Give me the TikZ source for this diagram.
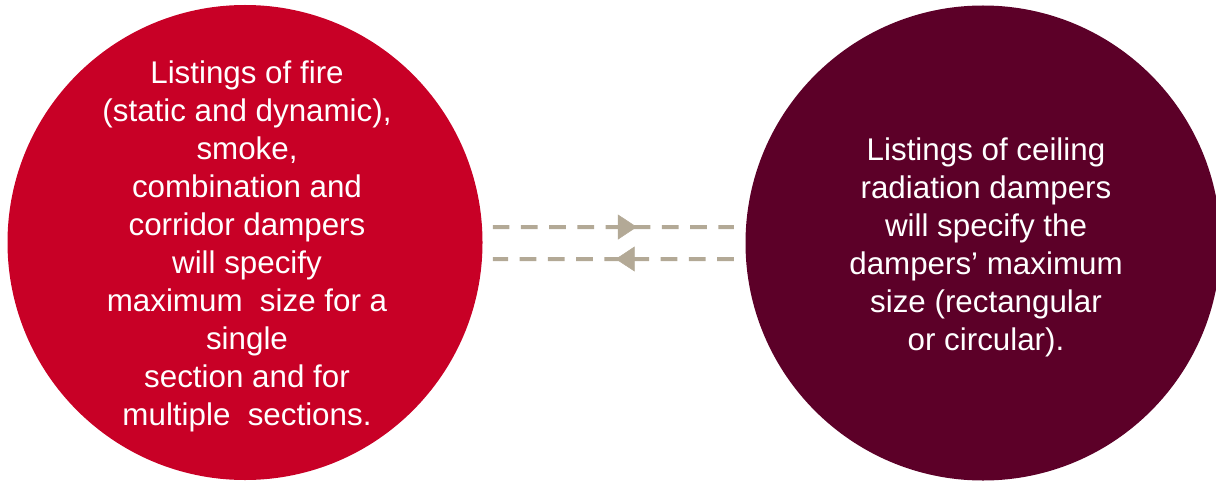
\documentclass[tikz,border=0pt]{standalone}
\usepackage{fontspec}
\setmainfont{Liberation Sans}
\usetikzlibrary{arrows.meta,decorations.markings}
\definecolor{firered}{RGB}{200,0,38}
\definecolor{ceilmaroon}{RGB}{92,0,40}
\definecolor{dashgray}{RGB}{179,169,150}
\tikzset{
  bigcircle/.style={circle,inner sep=0pt,minimum size=356.25pt,draw=none},
  circtext/.style={text=white,align=center,inner sep=0pt,font=\fontsize{23.5}{28.5}\selectfont},
  dashlink/.style={draw=dashgray,line width=3pt,dash pattern=on 12.5pt off 8.65pt},
  midarrow/.style={postaction={decorate},decoration={markings,
    mark=at position #1 with {\arrow[dashgray]{Triangle[length=14.25pt,width=18.75pt]}}}}
}
\begin{document}
\begin{tikzpicture}[x=0.75pt,y=-0.75pt]
\useasboundingbox (0,0) rectangle (1216,481);
\node[bigcircle,fill=firered] (L) at (245,242.5) {};
\node[bigcircle,fill=ceilmaroon] (R) at (983,243) {};
\node[circtext] (Lt) at (247,246) {Listings of fire\\(static and dynamic),\\smoke,\\combination and\\corridor dampers\\will specify\\maximum\ \ size for a\\single\\section and for\\multiple\ \ sections.};
\node[circtext] (Rt) at (986,247.5) {Listings of ceiling\\radiation dampers\\will specify the\\dampers’ maximum\\size (rectangular\\or circular).};
\coordinate (a1) at ([xshift=7.5pt,yshift=11.6pt]L.east);
\coordinate (b1) at ([xshift=-8.6pt,yshift=12pt]R.west);
\coordinate (a2) at ([xshift=7.5pt,yshift=-12.4pt]L.east);
\coordinate (b2) at ([xshift=-8.6pt,yshift=-12pt]R.west);
\draw[dashlink] (a1) -- (b1);
\draw[dashlink] (b2) -- (a2);
\path[midarrow=0.598] (a1) -- (b1);
\path[midarrow=0.49] (b2) -- (a2);
\end{tikzpicture}
\end{document}
